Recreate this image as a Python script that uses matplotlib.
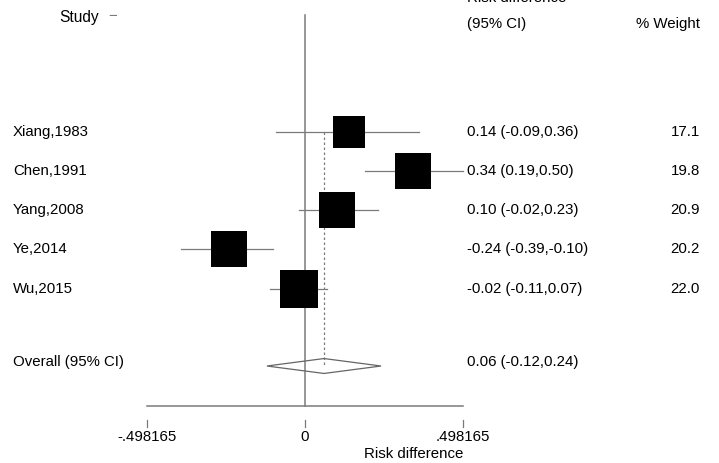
import matplotlib.pyplot as plt
from matplotlib.patches import Polygon

# data
studies = ["Xiang,1983", "Chen,1991", "Yang,2008", "Ye,2014", "Wu,2015"]
rd = [0.14, 0.34, 0.10, -0.24, -0.02]
lo = [-0.09, 0.19, -0.02, -0.39, -0.11]
hi = [0.36, 0.50, 0.23, -0.10, 0.07]
weight = [17.1, 19.8, 20.9, 20.2, 22.0]
overall = (0.06, -0.12, 0.24)
xtick_vals = [-0.498165, 0, 0.498165]
xtick_labels = ["-.498165", "0", ".498165"]

plt.rcParams['font.family'] = ['Liberation Sans', 'DejaVu Sans']
fs = 10.8
grey = '#7a7a7a'

fig = plt.figure(figsize=(7.19, 4.63), dpi=100)
ax = fig.add_axes([0, 0, 1, 1])
ax.set_xlim(-0.962, 1.306)
ax.set_ylim(8.44, -3.35)
ax.axis('off')

rows = list(range(len(studies)))
y_over = 5.97
y_axis = 6.98

# zero line and overall dashed line
ax.plot([0, 0], [-2.96, y_axis], color=grey, lw=1.1, zorder=1)
ax.plot([overall[0], overall[0]], [0, y_over], color=grey, lw=0.9,
        ls=(0, (2, 2)), zorder=1)

# studies
for y, name, r, l, h, w in zip(rows, studies, rd, lo, hi, weight):
    ax.plot([l, h], [y, y], color=grey, lw=0.9, zorder=2)
    ax.scatter([r], [y], marker='s', s=32.4 * w, color='black', zorder=3,
               linewidths=0)
    ax.text(-0.921, y, name, fontsize=fs, va='center', ha='left')
    ax.text(0.511, y, f"{r:.2f} ({l:.2f},{h:.2f})", fontsize=fs,
            va='center', ha='left')
    ax.text(1.246, y, f"{w:.1f}", fontsize=fs, va='center', ha='right')

# overall diamond
m, l, h = overall
ax.add_patch(Polygon([(l, y_over), (m, y_over - 0.19), (h, y_over),
                      (m, y_over + 0.19)], closed=True, fill=False,
                     edgecolor='#666666', lw=0.9, zorder=2))
ax.text(-0.921, y_over - 0.1, "Overall (95% CI)", fontsize=fs, va='center', ha='left')
ax.text(0.511, y_over - 0.1, f"{m:.2f} ({l:.2f},{h:.2f})", fontsize=fs,
        va='center', ha='left')

# headers
ax.text(-0.776, -2.9, "Study", fontsize=fs + 0.4, va='center', ha='left')
ax.text(-0.62, -2.95, "\u2212", fontsize=fs, va='center', ha='left', color=grey)
ax.text(0.511, -3.4, "Risk difference", fontsize=fs, va='center', ha='left')
ax.text(0.511, -2.73, "(95% CI)", fontsize=fs, va='center', ha='left')
ax.text(1.246, -2.73, "% Weight", fontsize=fs, va='center', ha='right')

# x axis
ax.plot([xtick_vals[0], xtick_vals[-1]], [y_axis, y_axis], color=grey, lw=1.1)
for v, lab in zip(xtick_vals, xtick_labels):
    ax.plot([v, v], [7.34, 7.53], color=grey, lw=0.9)
    ax.text(v, 7.78, lab, fontsize=fs, va='center', ha='center')
ax.text(0.498165, 8.2, "Risk difference", fontsize=fs, va='center', ha='right')

fig.savefig('out.png', dpi=100)
